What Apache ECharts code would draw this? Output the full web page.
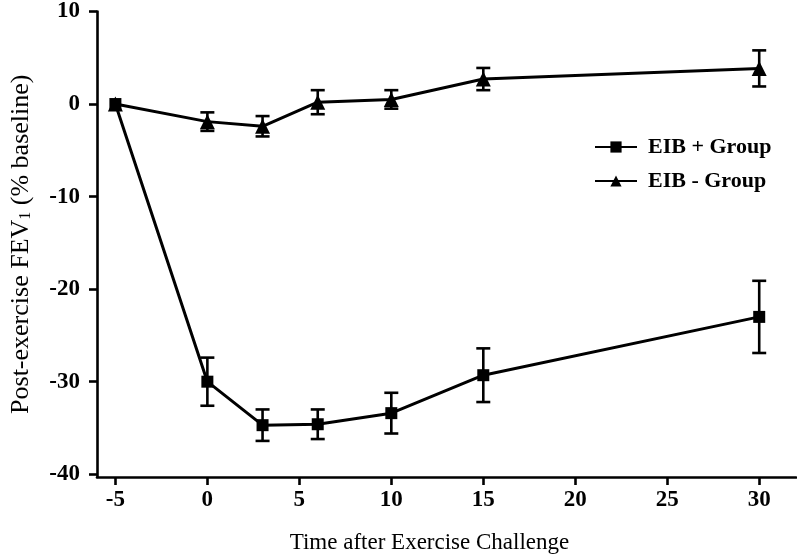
<!DOCTYPE html>
<html>
<head>
<meta charset="utf-8">
<script src="https://cdn.jsdelivr.net/npm/echarts@6/dist/echarts.min.js"></script>
<style>html,body{margin:0;padding:0;background:#fff}#c{width:797px;height:559px}</style>
</head>
<body>
<div id="c"></div>
<script>
const timePoints = [-5, 0, 3, 6, 10, 15, 30];
const eibPlusMean = [0, -30.0, -34.7, -34.6, -33.4, -29.3, -23.0];
const eibPlusErr = [0, 2.6, 1.7, 1.6, 2.2, 2.9, 3.9];
const eibMinusMean = [0, -1.9, -2.4, 0.2, 0.5, 2.7, 3.85];
const eibMinusErr = [0, 1.0, 1.1, 1.3, 1.0, 1.2, 1.95];
const xTicks = [-5, 0, 5, 10, 15, 20, 25, 30];
const yTicks = [-40, -30, -20, -10, 0, 10];
const seriesNames = ['EIB + Group', 'EIB - Group'];

const FONT = '"Liberation Serif", "Times New Roman", serif';

function pts(means) { return timePoints.map((t, i) => [t, means[i]]); }
function errs(means, e) { return timePoints.map((t, i) => [t, means[i] - e[i], means[i] + e[i]]); }

function errRender(params, api) {
  const x = api.value(0), lo = api.value(1), hi = api.value(2);
  if (hi - lo <= 0) return null;
  const a = api.coord([x, hi]), b = api.coord([x, lo]);
  const w = 7;
  const st = { stroke: '#000', lineWidth: 2.6 };
  return {
    type: 'group',
    children: [
      { type: 'line', shape: { x1: a[0], y1: a[1], x2: b[0], y2: b[1] }, style: st },
      { type: 'line', shape: { x1: a[0] - w, y1: a[1], x2: a[0] + w, y2: a[1] }, style: st },
      { type: 'line', shape: { x1: b[0] - w, y1: b[1], x2: b[0] + w, y2: b[1] }, style: st }
    ]
  };
}

const chart = echarts.init(document.getElementById('c'), null, { renderer: 'canvas' });
chart.setOption({
  animation: false,
  backgroundColor: '#fff',
  grid: { left: 88, right: 1, top: 10, bottom: 79, containLabel: false },
  legend: {
    orient: 'vertical', left: 589, top: 131,
    itemWidth: 42, itemHeight: 14, itemGap: 12,
    data: seriesNames,
    textStyle: { fontFamily: FONT, fontWeight: 'bold', fontSize: 22, color: '#000', padding: [0, 0, 0, 6] }
  },
  xAxis: {
    type: 'value', min: -6, max: 32,
    name: 'Time after Exercise Challenge', nameLocation: 'middle', nameGap: 54,
    nameTextStyle: { fontFamily: FONT, fontSize: 23, color: '#000', padding: [0, 34, 0, 0] },
    axisLine: { show: true, onZero: false, lineStyle: { color: '#000', width: 2.6 } },
    axisTick: { show: true, length: 8, lineStyle: { color: '#000', width: 2.6 }, customValues: xTicks },
    axisLabel: { customValues: xTicks, margin: 12, fontFamily: FONT, fontWeight: 'bold', fontSize: 23, color: '#000' },
    splitLine: { show: false }
  },
  yAxis: {
    type: 'value', min: -40.3, max: 10,
    name: 'Post-exercise FEV{sub|1} (% baseline)', nameLocation: 'middle', nameGap: 63, nameRotate: 90,
    nameTextStyle: {
      fontFamily: FONT, fontSize: 26, color: '#000',
      rich: { sub: { fontFamily: FONT, fontSize: 16, color: '#000', verticalAlign: 'bottom', lineHeight: 18 } }
    },
    axisLine: { show: true, onZero: false, lineStyle: { color: '#000', width: 2.6 } },
    axisTick: { show: true, length: 8, lineStyle: { color: '#000', width: 2.6 }, customValues: yTicks },
    axisLabel: { customValues: yTicks, margin: 17, fontFamily: FONT, fontWeight: 'bold', fontSize: 23, color: '#000' },
    splitLine: { show: false }
  },
  series: [
    { type: 'custom', name: 'errPlus', renderItem: errRender, data: errs(eibPlusMean, eibPlusErr), z: 3, encode: { x: 0, y: [1, 2] } },
    { type: 'custom', name: 'errMinus', renderItem: errRender, data: errs(eibMinusMean, eibMinusErr), z: 3, encode: { x: 0, y: [1, 2] } },
    {
      type: 'line', name: seriesNames[0], data: pts(eibPlusMean), symbol: 'rect', symbolSize: 12,
      lineStyle: { color: '#000', width: 3 }, itemStyle: { color: '#000' }, z: 4
    },
    {
      type: 'line', name: seriesNames[1], data: pts(eibMinusMean), symbol: 'triangle', symbolSize: 15,
      lineStyle: { color: '#000', width: 3 }, itemStyle: { color: '#000' }, z: 4
    }
  ]
});
</script>
</body>
</html>
